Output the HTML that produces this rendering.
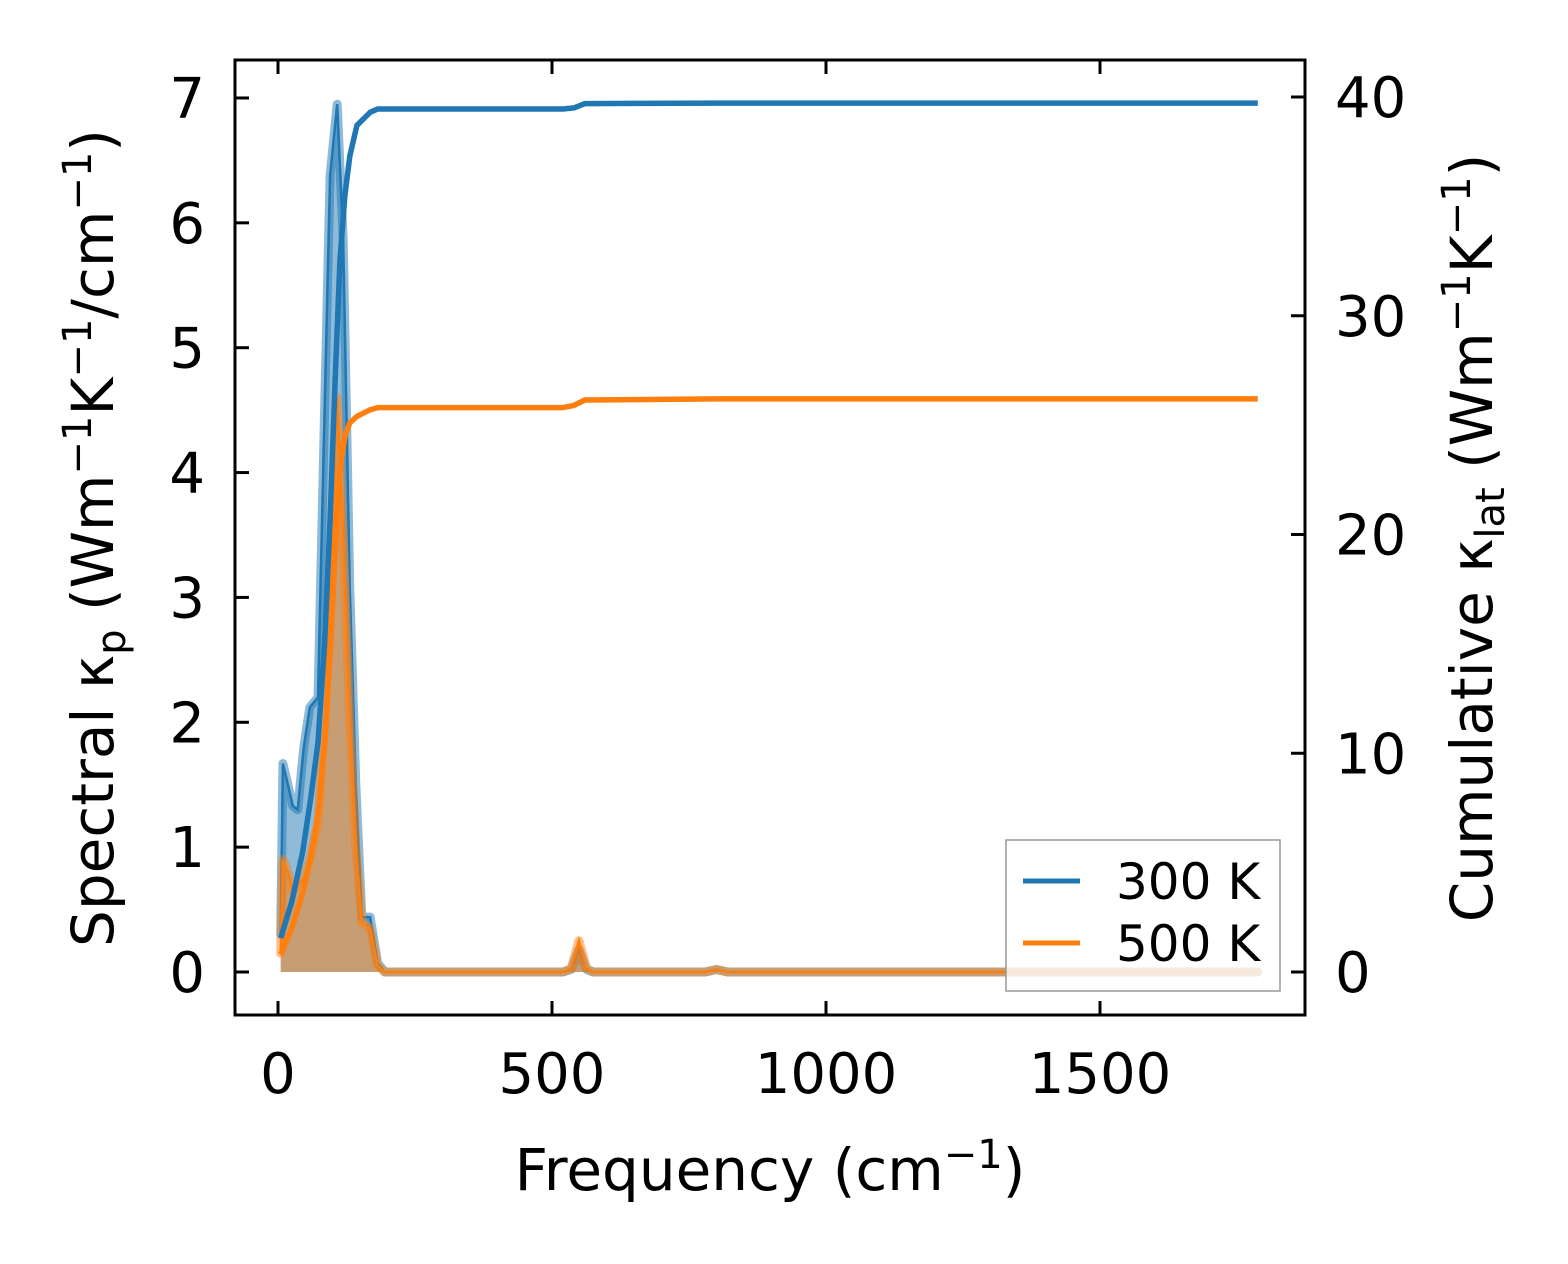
<!DOCTYPE html>
<html><head><meta charset="utf-8"><style>
html,body{margin:0;padding:0;background:#fff;}
svg{display:block;font-family:"DejaVu Sans","Liberation Sans",sans-serif;}
</style></head><body>
<svg id="chart" width="1568" height="1264" viewBox="0 0 1568 1264" xmlns="http://www.w3.org/2000/svg">
<rect x="0" y="0" width="1568" height="1264" fill="#fff"/>
<g id="marks"></g>
<g id="axes"></g>
</svg>
<script>
const freqSpec = [5, 9, 18, 27, 36, 47, 58, 73, 85, 95, 108, 119, 131, 142, 153, 168, 182, 195, 520, 535, 549, 563, 575, 780, 800, 820, 1788];
const spec300 = [0.3, 1.67, 1.5, 1.33, 1.3, 1.8, 2.12, 2.2, 4.5, 6.38, 6.95, 5.86, 3.06, 1.5, 0.44, 0.44, 0.07, 0, 0, 0.02, 0.18, 0.02, 0, 0, 0.02, 0, 0];
const spec500 = [0.15, 0.9, 0.8, 0.65, 0.7, 0.75, 0.9, 1.2, 2.0, 3.0, 4.6, 3.5, 2.0, 1.0, 0.4, 0.35, 0.05, 0, 0, 0.03, 0.25, 0.03, 0, 0, 0.02, 0, 0];
const freqCum = [5, 25, 45, 60, 73, 85, 95, 105, 113, 122, 131, 144, 168, 182, 200, 520, 540, 560, 800, 1788];
const cum300 = [1.55, 3.2, 5.5, 8.0, 10.5, 15.0, 20.7, 27.5, 32.5, 35.5, 37.3, 38.7, 39.3, 39.45, 39.45, 39.45, 39.5, 39.7, 39.72, 39.72];
const cum500 = [0.8, 2.0, 3.6, 5.3, 7.2, 10.5, 14.5, 19.5, 23.0, 24.5, 25.1, 25.4, 25.7, 25.8, 25.8, 25.8, 25.9, 26.15, 26.2, 26.2];
const xTicks = [0, 500, 1000, 1500];
const yLeftTicks = [0, 1, 2, 3, 4, 5, 6, 7];
const yRightTicks = [0, 10, 20, 30, 40];

const NS = "http://www.w3.org/2000/svg";
const L = 235, R = 1305, T = 60, B = 1015;
const xs = f => 278 + f * 0.548;
const yl = v => 972 - v * 124.86;
const yr = v => 972 - v * 21.875;
const marks = document.getElementById('marks');
const axes = document.getElementById('axes');
function mk(tag, attrs, parent) {
  const e = document.createElementNS(NS, tag);
  for (const k in attrs) e.setAttribute(k, attrs[k]);
  parent.appendChild(e);
  return e;
}
function pts(fx, vals, yf) { return fx.map((f, i) => xs(f).toFixed(1) + ',' + yf(vals[i]).toFixed(1)).join(' '); }

const series = [
  {spec: spec300, cum: cum300, c: '#1f77b4', n: '300'},
  {spec: spec500, cum: cum500, c: '#ff7f0e', n: '500'}
];
series.forEach(s => {
  const p = pts(freqSpec, s.spec, yl);
  const fill = mk('polygon', {points: xs(freqSpec[0]) + ',' + yl(0) + ' ' + p + ' ' + xs(freqSpec[freqSpec.length - 1]) + ',' + yl(0), fill: s.c, 'fill-opacity': 0.5}, marks);
  
  
  const edge = mk('polyline', {points: p, fill: 'none', stroke: s.c, 'stroke-opacity': 0.5, 'stroke-width': 9, 'stroke-linejoin': 'round', 'stroke-linecap': 'round'}, marks);
  
  
  const thin = mk('polyline', {points: p, fill: 'none', stroke: s.c, 'stroke-width': 2.5}, marks);
  
  
});
series.forEach(s => {
  const c = mk('polyline', {points: pts(freqCum, s.cum, yr), fill: 'none', stroke: s.c, 'stroke-width': 5.5, 'stroke-linejoin': 'round'}, marks);
  
  
});

const fr = mk('rect', {x: L, y: T, width: R - L, height: B - T, fill: 'none', stroke: '#000', 'stroke-width': 3}, axes);


function txt(x, y, s, attrs, name) {
  const t = mk('text', Object.assign({x: x, y: y, 'font-size': 56, fill: '#000'}, attrs), axes);
  t.textContent = s;
  
  
  return t;
}
xTicks.forEach(v => {
  const x = xs(v);
  mk('line', {x1: x, y1: B, x2: x, y2: B - 14, stroke: '#000', 'stroke-width': 3}, axes);
  mk('line', {x1: x, y1: T, x2: x, y2: T + 14, stroke: '#000', 'stroke-width': 3}, axes);
  txt(x, 1093, String(v), {'text-anchor': 'middle'}, 'x-tick-label-' + v);
});
yLeftTicks.forEach(v => {
  const y = yl(v);
  mk('line', {x1: L, y1: y, x2: L + 14, y2: y, stroke: '#000', 'stroke-width': 3}, axes);
  txt(205, y + 20, String(v), {'text-anchor': 'end'}, 'y-left-tick-label-' + v);
});
yRightTicks.forEach(v => {
  const y = yr(v);
  mk('line', {x1: R, y1: y, x2: R - 14, y2: y, stroke: '#000', 'stroke-width': 3}, axes);
  txt(1335, y + 20, String(v), {'text-anchor': 'start'}, 'y-right-tick-label-' + v);
});
</script>
<svg style="position:absolute;left:0;top:0" width="1568" height="1264" xmlns="http://www.w3.org/2000/svg" font-family="DejaVu Sans, Liberation Sans, sans-serif">
  <text x="770" y="1190" font-size="58" text-anchor="middle">Frequency (cm<tspan font-size="40" dy="-22">−1</tspan><tspan dy="22">)</tspan></text>
  <text transform="translate(113,538) rotate(-90)" font-size="58" text-anchor="middle">Spectral κ<tspan font-size="40" dy="12">p</tspan><tspan dy="-12"> (Wm</tspan><tspan font-size="40" dy="-22">−1</tspan><tspan dy="22">K</tspan><tspan font-size="40" dy="-22">−1</tspan><tspan dy="22">/cm</tspan><tspan font-size="40" dy="-22">−1</tspan><tspan dy="22">)</tspan></text>
  <text transform="translate(1492,538) rotate(-90)" font-size="58" text-anchor="middle">Cumulative κ<tspan font-size="40" dy="12">lat</tspan><tspan dy="-12"> (Wm</tspan><tspan font-size="40" dy="-22">−1</tspan><tspan dy="22">K</tspan><tspan font-size="40" dy="-22">−1</tspan><tspan dy="22">)</tspan></text>
  <g>
    <rect x="1006" y="840" width="274" height="151" fill="#fff" fill-opacity="0.8" stroke="#999" stroke-width="1.5"/>
    <line x1="1023" y1="881" x2="1080" y2="881" stroke="#1f77b4" stroke-width="5"/>
    <text x="1116" y="899" font-size="50">300 K</text>
    <line x1="1023" y1="943" x2="1080" y2="943" stroke="#ff7f0e" stroke-width="5"/>
    <text x="1116" y="961" font-size="50">500 K</text>
  </g>
</svg>
</body></html>
